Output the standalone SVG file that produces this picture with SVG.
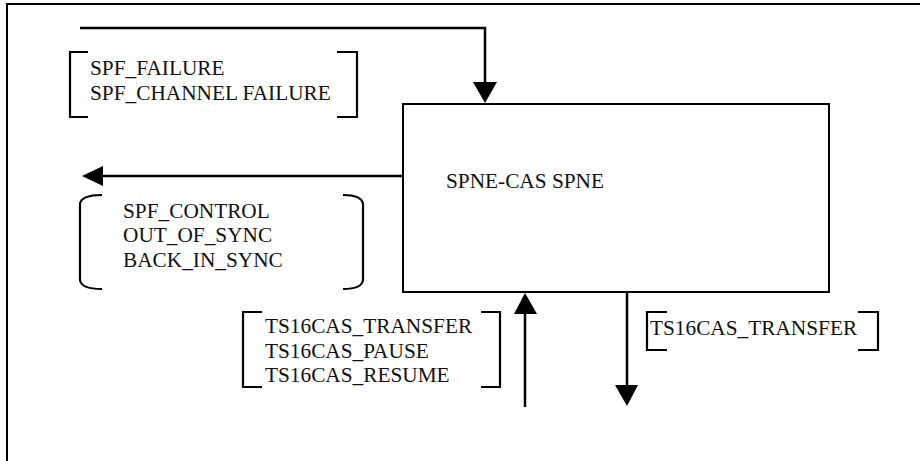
<svg xmlns="http://www.w3.org/2000/svg" width="920" height="461" viewBox="0 0 920 461">
<style>
text{font-family:"Liberation Serif","Times New Roman",serif;font-size:21.3px;fill:#111}
.ln{fill:none;stroke:#000;stroke-width:2.5}
.br{fill:none;stroke:#000;stroke-width:2.2}
.hd{fill:#000;stroke:none}
</style>
<rect x="0" y="0" width="920" height="461" fill="#fff"/>
<rect x="7" y="4" width="930" height="480" fill="none" stroke="#000" stroke-width="2"/>
<g id="spne">
<rect x="403" y="104" width="426" height="188" fill="#fff" stroke="#000" stroke-width="2"/>
<text x="446" y="188">SPNE-CAS SPNE</text>
</g>
<g id="label-failure">
<path class="br" d="M88,52 H70 V117 H88 M337,52 H357 V117 H337"/>
<text x="90" y="75">SPF_FAILURE</text>
<text x="90" y="100">SPF_CHANNEL FAILURE</text>
</g>
<g id="label-control">
<path class="br" d="M102,195 Q81,195 80,204 V280 Q81,289 102,289 M343,195 Q362,195 363,204 V280 Q362,289 343,289"/>
<text x="123" y="218">SPF_CONTROL</text>
<text x="123" y="242">OUT_OF_SYNC</text>
<text x="123" y="267">BACK_IN_SYNC</text>
</g>
<g id="label-ts16-in">
<path class="br" d="M262,312 H243 V387 H262 M481,312 H500 V387 H481"/>
<text x="265" y="333">TS16CAS_TRANSFER</text>
<text x="265" y="358">TS16CAS_PAUSE</text>
<text x="265" y="382">TS16CAS_RESUME</text>
</g>
<g id="label-ts16-out">
<path class="br" d="M667,312 H647 V350 H667 M858,312 H878 V350 H858"/>
<text x="650" y="335">TS16CAS_TRANSFER</text>
</g>
<g id="connectors">
<path class="ln" d="M80,28 H485 V84"/>
<path class="hd" d="M473,82 L497,82 L485,103 Z"/>
<path class="ln" d="M403,176 H100"/>
<path class="hd" d="M103,166 L103,186 L82,176 Z"/>
<path class="ln" d="M525,407 V312"/>
<path class="hd" d="M514,314 L537,314 L525,293 Z"/>
<path class="ln" d="M627,292 V388"/>
<path class="hd" d="M615,385 L638,385 L627,406 Z"/>
</g>
</svg>
